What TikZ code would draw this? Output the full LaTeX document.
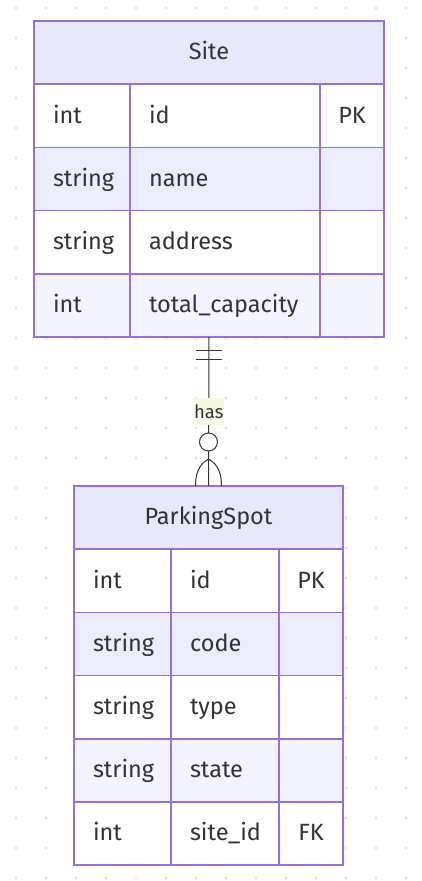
\documentclass[tikz,border=0pt]{standalone}
\usepackage{fontspec}
\setmainfont{Fira Sans}
\usepackage{xcolor}
\definecolor{erline}{HTML}{9370DB}
\definecolor{erhead}{HTML}{E8E8FC}
\definecolor{rowb}{HTML}{ECECFF}
\definecolor{rowc}{HTML}{F3F2FF}
\definecolor{ink}{HTML}{333333}
\definecolor{dotc}{HTML}{E2E2E2}
\definecolor{lblbg}{HTML}{F6F8E6}
\usepackage{tikz}
\usetikzlibrary{positioning,calc}
\tikzset{
  font=\fontsize{23.5}{26}\selectfont,
  ent/.style={draw=erline,line width=1.6pt,outer sep=0pt,inner ysep=0pt,
              minimum height=63.2pt,text=ink,anchor=north west,fill=white,
              text height=18.5pt,text depth=4pt},
  head/.style={ent,fill=erhead,align=center,inner xsep=0pt},
  attr/.style={ent,inner xsep=19pt,align=left},
  keyc/.style={ent,inner xsep=0pt,align=center,text width=64pt},
  rel/.style={draw=ink,line width=1pt},
  relbl/.style={font=\fontsize{18.5}{20}\selectfont,text=ink,fill=lblbg,
                inner xsep=1pt,inner ysep=6pt},
}

\begin{document}
\begin{tikzpicture}[x=1pt,y=-1pt]
  \useasboundingbox[fill=white] (0,0) rectangle (422,881);
  % dotted canvas
  \foreach \i in {0,...,13}
    \foreach \j in {0,...,29}
      \fill[dotc] (16+30*\i,8+30*\j) circle (1.6pt);

  % Site
  \node[head,text width=350pt] (site) at (34,21) {Site};
  \node[attr,text width=58pt] (s1a) at (site.south west) {int};
  \node[attr,text width=152pt] (s1b) at (s1a.north east) {id};
  \node[keyc] (s1c) at (s1b.north east) {PK};
  \node[attr,fill=rowb,text width=58pt] (s2a) at (s1a.south west) {string};
  \node[attr,fill=rowb,text width=152pt] (s2b) at (s2a.north east) {name};
  \node[keyc,fill=rowb] (s2c) at (s2b.north east) {};
  \node[attr,text width=58pt] (s3a) at (s2a.south west) {string};
  \node[attr,text width=152pt] (s3b) at (s3a.north east) {address};
  \node[keyc] (s3c) at (s3b.north east) {};
  \node[attr,fill=rowc,text width=58pt] (s4a) at (s3a.south west) {int};
  \node[attr,fill=rowc,text width=152pt] (s4b) at (s4a.north east) {total\_capacity};
  \node[keyc,fill=rowc] (s4c) at (s4b.north east) {};

  % ParkingSpot
  \node[head,text width=269pt] (spot) at (74,486) {ParkingSpot};
  \node[attr,text width=59pt] (p1a) at (spot.south west) {int};
  \node[attr,text width=70pt] (p1b) at (p1a.north east) {id};
  \node[keyc] (p1c) at (p1b.north east) {PK};
  \node[attr,fill=rowb,text width=59pt] (p2a) at (p1a.south west) {string};
  \node[attr,fill=rowb,text width=70pt] (p2b) at (p2a.north east) {code};
  \node[keyc,fill=rowb] (p2c) at (p2b.north east) {};
  \node[attr,text width=59pt] (p3a) at (p2a.south west) {string};
  \node[attr,text width=70pt] (p3b) at (p3a.north east) {type};
  \node[keyc] (p3c) at (p3b.north east) {};
  \node[attr,fill=rowc,text width=59pt] (p4a) at (p3a.south west) {string};
  \node[attr,fill=rowc,text width=70pt] (p4b) at (p4a.north east) {state};
  \node[keyc,fill=rowc] (p4c) at (p4b.north east) {};
  \node[attr,text width=59pt] (p5a) at (p4a.south west) {int};
  \node[attr,text width=70pt] (p5b) at (p5a.north east) {site\_id};
  \node[keyc] (p5c) at (p5b.north east) {FK};

  % has: exactly one Site to zero or more ParkingSpot
  \coordinate (siteEnd) at (site.center |- s4a.south);
  \coordinate (spotEnd) at (spot.north);
  \draw[rel] (siteEnd) -- node[relbl] (hasLbl) {has} (spotEnd);
  \draw[rel] (siteEnd) ++(-13,13) -- ++(26,0);
  \draw[rel] (siteEnd) ++(-13,22) -- ++(26,0);
  \draw[rel,fill=white] ($(spotEnd)+(0,-44)$) circle (9pt);
  \draw[rel] ($(spotEnd)+(0,-27)$) .. controls ($(spotEnd)+(-11,-21)$) and ($(spotEnd)+(-13,-10)$) .. ($(spotEnd)+(-13,0)$);
  \draw[rel] ($(spotEnd)+(0,-27)$) .. controls ($(spotEnd)+(11,-21)$) and ($(spotEnd)+(13,-10)$) .. ($(spotEnd)+(13,0)$);
\end{tikzpicture}
\end{document}
